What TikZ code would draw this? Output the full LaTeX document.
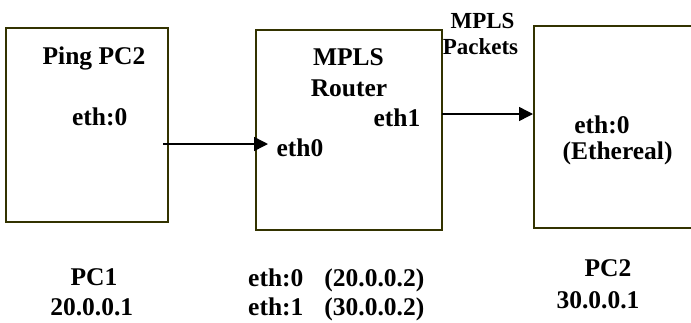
\documentclass[tikz,border=0pt]{standalone}
\usepackage{fontspec}
\setmainfont{Liberation Serif}
\usetikzlibrary{arrows.meta}
\definecolor{boxline}{RGB}{51,51,0}
\begin{document}
\begin{tikzpicture}[x=1pt,y=-1pt,
  box/.style={draw=boxline,line width=2pt,rectangle,inner sep=0pt,outer sep=0pt},
  lbl/.style={font=\fontsize{25.5}{30}\selectfont\bfseries,inner sep=0pt,anchor=base},
  small/.style={font=\fontsize{23}{26}\selectfont\bfseries,inner sep=0pt,anchor=base},
  arr/.style={line width=1.5pt,-{Triangle[length=14pt,width=14pt]}}]
\useasboundingbox (0,0) rectangle (691,322);
\clip (0,0) rectangle (691,322);
% boxes
\node[box,minimum width=162pt,minimum height=193.7pt] (box1) at (87,124.85) {};
\node[box,minimum width=186pt,minimum height=200pt] (box2) at (349,130) {};
\node[box,minimum width=186pt,minimum height=202.6pt] (box3) at (627,127) {};
% box 1 texts
\node[lbl] (t1) at (94,64) {Ping PC2};
\node[lbl] (t2) at (99.7,125.7) {eth:0};
\node[lbl] (t3) at (94,285.7) {PC1};
\node[lbl] (t4) at (91.7,315) {20.0.0.1};
% box 2 texts
\node[lbl] (t5) at (348.5,65.7) {MPLS};
\node[lbl] (t6) at (349,96.7) {Router};
\node[lbl] (t7) at (397,126) {eth1};
\node[lbl] (t8) at (300,156.7) {eth0};
\node[lbl,anchor=base west] (t9) at (248,286.7) {eth:0\hspace{21pt}(20.0.0.2)};
\node[lbl,anchor=base west] (t10) at (248,315) {eth:1\hspace{21pt}(30.0.0.2)};
% arrow label
\node[small] (t11) at (482.5,28.3) {MPLS};
\node[small] (t12) at (480.5,54.5) {Packets};
% box 3 texts
\node[lbl] (t13) at (602,133.3) {eth:0};
\node[lbl] (t14) at (617.5,159.5) {(Ethereal)};
\node[lbl] (t15) at (608,276.7) {PC2};
\node[lbl] (t16) at (598,308) {30.0.0.1};
% connectors
\coordinate (a1s) at (163,144);
\coordinate (a1e) at (268,144);
\coordinate (y2) at (0,114);
\draw[arr] (a1s) -- (a1e);
\draw[arr] (box2.east |- y2) -- ([xshift=-1pt]box3.west |- y2);
\end{tikzpicture}
\end{document}
